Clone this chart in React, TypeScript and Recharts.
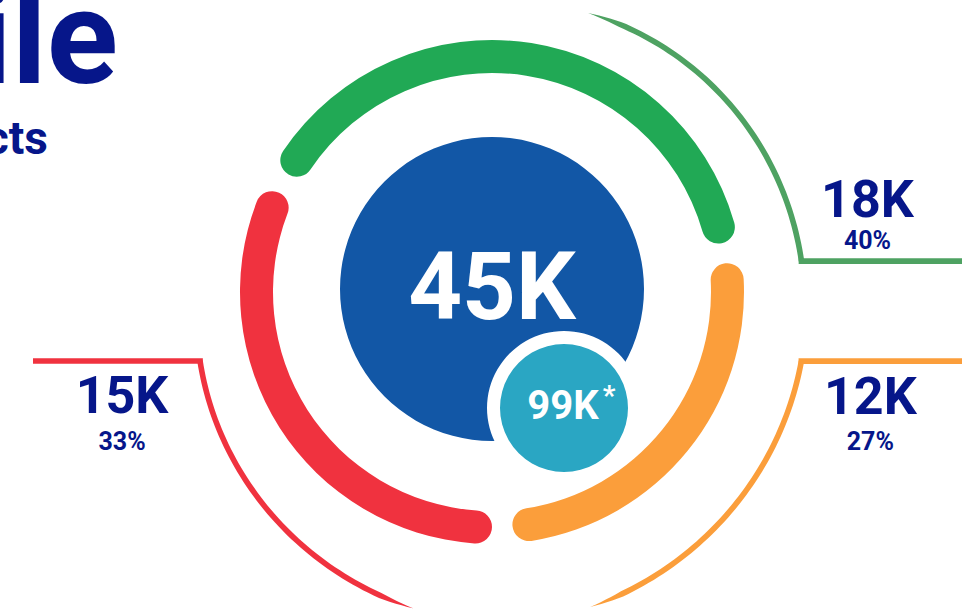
import { PieChart, Pie, Cell } from "recharts";

const CATEGORIES = ["Segment A", "Segment B", "Segment C"];
const VALUES_K = [18, 15, 12];
const TOTAL_K = 45;
const REACH_K = 99;
const TITLE = "ile";
const SUBTITLE = "cts";

const RING_COLORS = ["#21A955", "#F0323F", "#FB9E3B"];
const LEADER_COLORS = ["#4EA262", "#F0323F", "#FB9E3B"];
const NAVY = "#06168A";
const FONT = "Roboto, 'Noto Sans', sans-serif";

// leader arcs around the ring: tip -> end, then a horizontal rule out to lineTo
const LEADERS = [
  { tipAngle: 71, tipR: 295, endAngle: 5.7, endR: 311, taper: 7, lineTo: 962, textDx: 66, valueDy: -44, pctDy: -12 },
  { tipAngle: 256, tipR: 326, endAngle: 193.3, endR: 300, taper: 6, lineTo: 33, textDx: -78, valueDy: 52, pctDy: 89 },
  { tipAngle: 287.3, tipR: 330, endAngle: 347.4, endR: 317, taper: 6, lineTo: 962, textDx: 69, valueDy: 53, pctDy: 89 },
];

const RAD = Math.PI / 180;
const HALF = 2.8;

const renderLeader = (props: any) => {
  const { cx, cy, index, value, percent } = props;
  const l = LEADERS[index];
  const pt = (a: number, r: number) => [cx + r * Math.cos(a * RAD), cy - r * Math.sin(a * RAD)];
  const N = 60;
  const outer: number[][] = [];
  const inner: number[][] = [];
  for (let k = 0; k <= N; k++) {
    const t = k / N;
    const a = l.tipAngle + (l.endAngle - l.tipAngle) * t;
    const r = l.tipR + (l.endR - l.tipR) * t;
    const hw = HALF * Math.min(1, Math.abs(a - l.tipAngle) / l.taper);
    outer.push(pt(a, r + hw));
    inner.push(pt(a, r - hw));
  }
  const d =
    "M" + outer.map((p) => p[0].toFixed(2) + "," + p[1].toFixed(2)).join("L") +
    "L" + inner.reverse().map((p) => p[0].toFixed(2) + "," + p[1].toFixed(2)).join("L") + "Z";
  const [ex, ey] = pt(l.endAngle, l.endR);
  const dir = Math.sign(l.lineTo - ex);
  const tx = ex + l.textDx;
  return (
    <g>
      <path d={d} fill={LEADER_COLORS[index]} />
      <line x1={ex - dir * HALF} y1={ey} x2={l.lineTo} y2={ey} stroke={LEADER_COLORS[index]} strokeWidth={HALF * 2} />
      <text x={tx} y={ey + l.valueDy} textAnchor="middle" fill={NAVY} fontFamily={FONT} fontWeight={700} fontSize={52}>
        {value}K
      </text>
      <text x={tx} y={ey + l.pctDy} textAnchor="middle" fill={NAVY} fontFamily={FONT} fontWeight={700} fontSize={25}>
        {Math.round(percent * 100)}%
      </text>
    </g>
  );
};

const renderTotal = (props: any) => (
  <text x={props.cx} y={props.cy + 30} textAnchor="middle" fill="#fff" fontFamily={FONT} fontWeight={700} fontSize={94}>
    {props.value}K
  </text>
);

const renderReach = (props: any) => (
  <g>
    <text x={props.cx - 1} y={props.cy + 11} textAnchor="middle" fill="#fff" fontFamily={FONT} fontWeight={700} fontSize={40}>
      {props.value}K
    </text>
    <text x={props.cx + 45} y={props.cy - 3} textAnchor="middle" fill="#fff" fontFamily={FONT} fontWeight={700} fontSize={28}>
      *
    </text>
  </g>
);

export default function App() {
  const ringData = CATEGORIES.map((name, i) => ({ name, value: VALUES_K[i] }));
  const totalData = [{ name: "Total", value: TOTAL_K }];
  const reachData = [{ name: "Reach", value: REACH_K }];

  return (
    <div style={{ position: "absolute", left: 0, top: 0, width: 962, height: 609, background: "#fff", overflow: "hidden" }}>
      <PieChart width={962} height={609} margin={{ top: 0, right: 0, bottom: 0, left: 0 }}>
        <Pie
          data={ringData}
          dataKey="value"
          nameKey="name"
          cx={492}
          cy={292}
          innerRadius={219}
          outerRadius={252}
          startAngle={12}
          endAngle={372}
          paddingAngle={5}
          cornerRadius={17}
          stroke="none"
          label={renderLeader}
          labelLine={false}
          isAnimationActive={false}
        >
          {ringData.map((_, i) => (
            <Cell key={i} fill={RING_COLORS[i]} />
          ))}
        </Pie>
        <Pie
          data={totalData}
          dataKey="value"
          cx={492}
          cy={289}
          innerRadius={0}
          outerRadius={152}
          fill="#1257A6"
          stroke="none"
          label={renderTotal}
          labelLine={false}
          isAnimationActive={false}
        />
        <Pie
          data={reachData}
          dataKey="value"
          cx={564}
          cy={408}
          innerRadius={0}
          outerRadius={77}
          fill="#ffffff"
          stroke="none"
          isAnimationActive={false}
        />
        <Pie
          data={reachData}
          dataKey="value"
          cx={564}
          cy={408}
          innerRadius={0}
          outerRadius={64}
          fill="#2AA6C3"
          stroke="none"
          label={renderReach}
          labelLine={false}
          isAnimationActive={false}
        />
      </PieChart>
      <svg width={962} height={609} style={{ position: "absolute", left: 0, top: 0, pointerEvents: "none" }}>
        <text x={118} y={83} textAnchor="end" fill={NAVY} fontFamily={FONT} fontWeight={700} fontSize={132}>
          {TITLE}
        </text>
        <text x={48} y={154} textAnchor="end" fill={NAVY} fontFamily={FONT} fontWeight={700} fontSize={46}>
          {SUBTITLE}
        </text>
      </svg>
    </div>
  );
}
